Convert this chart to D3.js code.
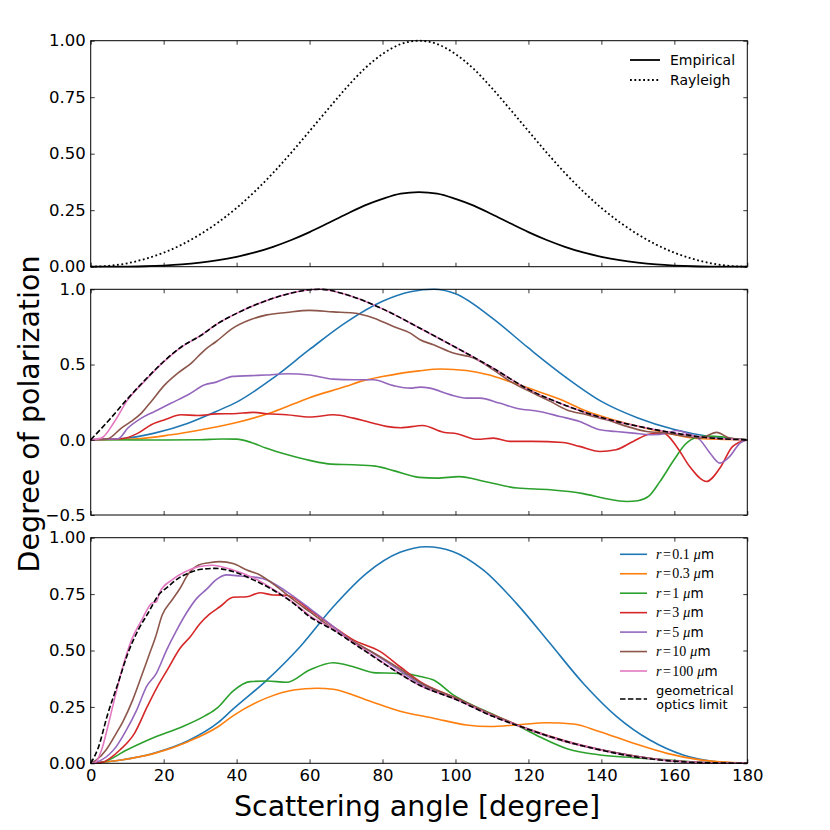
<!DOCTYPE html>
<html lang="en">
<head>
<meta charset="utf-8">
<title>Degree of polarization vs scattering angle</title>
<script src="https://cdn.jsdelivr.net/npm/d3@7"></script>
<style>
  body { margin: 0; background: #fff; }
  text { font-family: "DejaVu Sans", sans-serif; }
</style>
</head>
<body>
<script>
// ---- values ----
var xTicks = [0, 20, 40, 60, 80, 100, 120, 140, 160, 180];
var topTicks = [0, 0.25, 0.5, 0.75, 1];
var midTicks = [-0.5, 0, 0.5, 1];
var botTicks = [0, 0.25, 0.5, 0.75, 1];

// top panel
var topAngles = [0, 5, 10, 15, 20, 25, 30, 35, 40, 45, 50, 55, 60, 65, 70, 75, 80, 85, 90,
  95, 100, 105, 110, 115, 120, 125, 130, 135, 140, 145, 150, 155, 160, 165, 170, 175, 180];
var rayleigh = [0, 0.004, 0.015, 0.035, 0.062, 0.098, 0.143, 0.197, 0.26, 0.333, 0.415, 0.505, 0.6, 0.696, 0.79, 0.875, 0.941, 0.985, 1,
  0.985, 0.941, 0.875, 0.79, 0.696, 0.6, 0.505, 0.415, 0.333, 0.26, 0.197, 0.143, 0.098, 0.062, 0.035, 0.015, 0.004, 0];
var empirical = [0, 0.0001, 0.0006, 0.002, 0.005, 0.010, 0.018, 0.029, 0.044, 0.063, 0.088, 0.118, 0.153, 0.192, 0.232, 0.27, 0.30, 0.323, 0.33,
  0.323, 0.30, 0.27, 0.232, 0.192, 0.153, 0.118, 0.088, 0.063, 0.044, 0.029, 0.018, 0.010, 0.005, 0.002, 0.0006, 0.0001, 0];
var topLegend = ["Empirical", "Rayleigh"];

// particle radii (micron) and colours
var radii = ["0.1", "0.3", "1", "3", "5", "10", "100"];
var colors = ["#1f77b4", "#ff7f0e", "#2ca02c", "#d62728", "#9467bd", "#8c564b", "#e377c2"];
var geoLabel = ["geometrical", "optics limit"];

// middle panel: [angle, P]
var mid01 = [[0,0],[8.4,0.007],[17.5,0.044],[26.7,0.11],[34.4,0.188],[40,0.25],[50,0.41],[60,0.6],[70,0.78],[80,0.92],[88,0.985],[94,1.0],[100,0.97],[110,0.81],[120,0.61],[130,0.42],[140,0.255],[150,0.145],[160,0.068],[170,0.02],[180,0]];
var mid03 = [[0,0],[13,0.007],[22,0.033],[30,0.065],[34.4,0.085],[40,0.115],[50,0.185],[60,0.28],[70,0.355],[74,0.388],[80,0.42],[90,0.458],[96,0.47],[103,0.46],[109,0.432],[115,0.385],[121,0.335],[129,0.266],[136,0.19],[143,0.135],[150,0.09],[158,0.044],[165,0.012],[172,0.003],[180,0]];
var mid1 = [[0,0],[20,-0.002],[30,0],[36,0.005],[40,0.004],[44,-0.018],[48,-0.055],[54,-0.1],[60,-0.137],[66,-0.162],[72,-0.166],[78,-0.175],[83,-0.205],[90,-0.25],[95,-0.255],[101,-0.245],[108,-0.277],[117,-0.321],[126,-0.332],[135,-0.358],[141,-0.39],[147,-0.41],[150,-0.405],[153,-0.375],[156,-0.28],[160,-0.13],[163,-0.03],[166,0.015],[169,0.024],[173,0.02],[177,0.004],[180,0]];
var mid3 = [[0,0],[8.4,0.007],[13,0.044],[16.6,0.1],[20.3,0.133],[24.8,0.166],[29.4,0.161],[34.4,0.172],[39,0.173],[44.6,0.182],[48.3,0.173],[53.7,0.166],[60,0.151],[66.5,0.166],[72,0.144],[77.5,0.11],[81,0.089],[85,0.08],[91,0.095],[96.7,0.05],[100.4,0.04],[106,0.003],[110.4,0.011],[115,-0.011],[121,-0.011],[129.5,-0.018],[134,-0.044],[139.6,-0.078],[144,-0.066],[148.7,-0.011],[153.3,0.038],[157,0.044],[160.6,-0.044],[164.2,-0.177],[168.8,-0.277],[172.5,-0.188],[176,-0.044],[180,0]];
var mid5 = [[0,0],[7.5,0.007],[10.2,0.078],[13.9,0.144],[17.5,0.188],[22.1,0.244],[26.7,0.299],[31.3,0.365],[34.4,0.383],[39,0.421],[44,0.426],[48,0.43],[54,0.439],[60,0.43],[66.5,0.403],[72,0.399],[77.5,0.399],[83,0.36],[87.6,0.343],[90.3,0.35],[93,0.343],[98.5,0.3],[103,0.277],[106.7,0.277],[112,0.244],[116.7,0.21],[123,0.188],[128.6,0.155],[134,0.122],[139.6,0.066],[144,0.055],[148.7,0.044],[154,0.033],[158,0.044],[160.6,0.062],[163.4,0.044],[167,0],[169.8,-0.089],[172.5,-0.155],[175.2,-0.11],[178,-0.022],[180,0]];
var mid10 = [[0,0],[4.7,0.007],[8.4,0.078],[11.1,0.122],[13.9,0.177],[16.6,0.255],[20.3,0.365],[23.9,0.443],[27.6,0.51],[31.3,0.598],[34.4,0.653],[39,0.742],[43.7,0.797],[48.3,0.83],[53.7,0.846],[60,0.86],[66.5,0.85],[72,0.843],[77.5,0.81],[83,0.753],[87.6,0.709],[90.3,0.665],[94,0.631],[99.4,0.576],[105,0.543],[110.4,0.465],[115,0.388],[121.3,0.31],[126,0.255],[130.4,0.2],[136,0.166],[141.4,0.133],[147,0.089],[152.4,0.055],[158,0.044],[163.4,0.022],[167,0.011],[171.6,0.049],[175.2,0.011],[180,0]];
var mid100 = [[0,0],[2.9,0.011],[6.5,0.12],[10,0.26],[15,0.395],[20,0.518],[25,0.618],[30,0.69],[35,0.775],[40,0.84],[45,0.895],[50,0.94],[55,0.975],[60,0.997],[63,1.0],[70,0.965],[80,0.87],[90,0.745],[100,0.615],[110,0.48],[120,0.335],[130,0.23],[140,0.148],[150,0.09],[160,0.045],[170,0.012],[180,0]];
var midGeo = [[0,0],[5,0.13],[10,0.27],[15,0.40],[20,0.52],[25,0.62],[30,0.69],[35,0.775],[40,0.84],[45,0.895],[50,0.94],[55,0.975],[60,0.997],[63,1.0],[70,0.965],[80,0.87],[90,0.745],[100,0.615],[110,0.48],[120,0.335],[130,0.23],[140,0.148],[150,0.09],[160,0.045],[170,0.012],[180,0]];

// bottom panel: [angle, P]
var bot01 = [[0,0],[8.4,0.015],[17.5,0.046],[26.7,0.1],[34.9,0.18],[39,0.24],[48.3,0.369],[57.4,0.517],[66.5,0.694],[75.6,0.842],[84.8,0.935],[92,0.96],[99.4,0.938],[107.6,0.857],[116.7,0.709],[125.9,0.532],[135,0.355],[144.2,0.207],[153.3,0.103],[162.4,0.037],[171.6,0.007],[180,0]];
var bot03 = [[0,0],[8.4,0.015],[17.5,0.044],[26.7,0.096],[34.9,0.162],[39,0.21],[48.3,0.29],[55.6,0.325],[62,0.333],[66.5,0.328],[75.6,0.281],[84.8,0.231],[94,0.2],[103,0.17],[109.4,0.163],[116.7,0.17],[125,0.18],[132.3,0.174],[139.6,0.14],[148.8,0.089],[158,0.044],[167,0.015],[180,0]];
var bot1 = [[0,0],[3,0.004],[10,0.06],[17.5,0.115],[24.8,0.16],[31.3,0.21],[34.9,0.248],[39,0.32],[43.7,0.362],[48.3,0.365],[53.7,0.359],[60,0.414],[66.5,0.446],[72,0.428],[77.5,0.402],[83,0.399],[87,0.396],[90.3,0.385],[94,0.369],[99.4,0.303],[107.6,0.236],[115.8,0.177],[123,0.118],[130.4,0.066],[139.6,0.037],[148.8,0.025],[158,0.015],[167,0.004],[180,0]];
var bot3 = [[0,0],[3,0.004],[8,0.059],[12,0.133],[15.5,0.251],[18.3,0.34],[21,0.414],[24.5,0.51],[27.3,0.561],[30,0.62],[32.5,0.66],[35.5,0.695],[39,0.736],[42.8,0.738],[46.4,0.756],[50,0.746],[53.7,0.745],[60,0.68],[66.5,0.606],[72,0.547],[79.4,0.495],[84.8,0.428],[90.3,0.362],[100.4,0.288],[110.4,0.214],[120,0.152],[130,0.1],[140,0.06],[150,0.03],[160,0.01],[170,0.002],[180,0]];
var bot5 = [[0,0],[3,0.015],[7,0.074],[9.8,0.148],[12.6,0.236],[15.3,0.34],[18,0.399],[20.8,0.502],[23.4,0.585],[26.2,0.665],[29,0.73],[31.8,0.772],[34.6,0.816],[37.3,0.835],[41,0.83],[45.5,0.824],[48.3,0.813],[53.7,0.761],[60,0.687],[66.5,0.606],[72,0.539],[77.5,0.488],[84.8,0.41],[90.3,0.352],[100.4,0.285],[110.4,0.212],[120,0.15],[130,0.098],[140,0.06],[150,0.03],[160,0.01],[170,0.002],[180,0]];
var bot10 = [[0,0],[1.6,0.015],[4.2,0.059],[7,0.133],[8.8,0.184],[11.5,0.28],[14.2,0.399],[16,0.48],[17.8,0.561],[19.6,0.657],[22.3,0.724],[24.2,0.768],[26.9,0.842],[29.6,0.879],[32.4,0.889],[35.5,0.894],[39,0.886],[42.8,0.857],[46.4,0.835],[51,0.783],[55.6,0.724],[60,0.672],[66.5,0.595],[72,0.54],[77.5,0.49],[84.8,0.418],[90.3,0.358],[100.4,0.287],[110.4,0.212],[120,0.15],[130,0.097],[140,0.059],[150,0.03],[160,0.01],[170,0.002],[180,0]];
var bot100 = [[0,0],[1.2,0.003],[3,0.06],[4.8,0.17],[6.6,0.29],[8.5,0.41],[11.2,0.547],[14,0.635],[16.7,0.709],[18,0.716],[19,0.76],[22.2,0.812],[25.9,0.849],[29.5,0.871],[33.2,0.878],[39,0.857],[44.6,0.822],[50,0.772],[55.6,0.712],[60,0.655],[66.5,0.595],[72,0.535],[77.5,0.476],[83,0.416],[90.3,0.345],[100.4,0.282],[110.4,0.208],[120.5,0.148],[130.5,0.096],[139.7,0.059],[148.8,0.03],[157.9,0.012],[167,0.003],[180,0]];
var botGeo = [[0,0],[2,0.066],[4.7,0.22],[7.5,0.355],[10.2,0.488],[13,0.59],[15.7,0.665],[18.8,0.75],[21.2,0.783],[24,0.82],[26.7,0.842],[30.3,0.86],[34,0.864],[39,0.85],[44.6,0.813],[50,0.768],[55.6,0.709],[60,0.65],[66.5,0.591],[72,0.532],[77.5,0.473],[83,0.414],[90.3,0.345],[100.4,0.281],[110.4,0.207],[120.5,0.148],[130.5,0.096],[139.7,0.059],[148.8,0.03],[157.9,0.012],[167,0.003],[180,0]];

var midSeries = [mid01, mid03, mid1, mid3, mid5, mid10, mid100];
var botSeries = [bot01, bot03, bot1, bot3, bot5, bot10, bot100];

// ---- layout ----
var width = 830, height = 830;
var left = 90.7, right = 747.3;
var svg = d3.select("body").append("svg").attr("width", width).attr("height", height);

var x = d3.scaleLinear().domain([0, 180]).range([left, right]);
var yTop = d3.scaleLinear().domain([0, 1]).range([266.7, 40.7]);
var yMid = d3.scaleLinear().domain([-0.5, 1]).range([515, 289.3]);
var yBot = d3.scaleLinear().domain([0, 1]).range([763.3, 537.7]);

// axes with inward ticks on all four sides
function frame(y, ticks, fmt, xLabels) {
  var g = svg.append("g");
  var y0 = y.range()[0], y1 = y.range()[1];
  g.append("g").attr("transform", "translate(0," + y0 + ")")
    .call(d3.axisBottom(x).tickValues(xTicks).tickSize(-4).tickPadding(6)
      .tickFormat(xLabels ? d3.format("d") : function () { return ""; }));
  g.append("g").attr("transform", "translate(0," + y1 + ")")
    .call(d3.axisTop(x).tickValues(xTicks).tickSize(-4).tickFormat(function () { return ""; }));
  g.append("g").attr("transform", "translate(" + left + ",0)")
    .call(d3.axisLeft(y).tickValues(ticks).tickSize(-4).tickPadding(5).tickFormat(fmt));
  g.append("g").attr("transform", "translate(" + right + ",0)")
    .call(d3.axisRight(y).tickValues(ticks).tickSize(-4).tickFormat(function () { return ""; }));
  g.selectAll(".domain").remove();
  g.selectAll(".tick line").attr("stroke", "#000").attr("stroke-width", 0.8);
  g.selectAll(".tick text").attr("font-family", "DejaVu Sans").attr("font-size", 16.5).attr("fill", "#000");
  g.append("rect").attr("x", left).attr("y", y1).attr("width", right - left).attr("height", y0 - y1)
    .attr("fill", "none").attr("stroke", "#000").attr("stroke-width", 1);
}

function pairLine(y) {
  return d3.line().x(function (d) { return x(d[0]); }).y(function (d) { return y(d[1]); }).curve(d3.curveMonotoneX);
}

// ---- top panel ----
var topLine = d3.line().x(function (d, i) { return x(topAngles[i]); }).y(function (d) { return yTop(d); }).curve(d3.curveMonotoneX);
svg.append("path").attr("d", topLine(rayleigh)).attr("fill", "none").attr("stroke", "#000")
  .attr("stroke-width", 1.8).attr("stroke-dasharray", "1.8,2.6");
svg.append("path").attr("d", topLine(empirical)).attr("fill", "none").attr("stroke", "#000").attr("stroke-width", 1.8);
frame(yTop, topTicks, d3.format(".2f"), false);

// top legend
topLegend.forEach(function (name, i) {
  var ly = 60 + i * 20;
  svg.append("line").attr("x1", 630).attr("x2", 660).attr("y1", ly).attr("y2", ly)
    .attr("stroke", "#000").attr("stroke-width", 1.8).attr("stroke-dasharray", i === 0 ? null : "1.8,2.6");
  svg.append("text").attr("x", 670).attr("y", ly + 5).attr("font-size", 14).text(name);
});

// ---- middle panel ----
var midLine = pairLine(yMid);
midSeries.forEach(function (s, i) {
  svg.append("path").attr("d", midLine(s)).attr("fill", "none").attr("stroke", colors[i]).attr("stroke-width", 1.6);
});
svg.append("path").attr("d", midLine(midGeo)).attr("fill", "none").attr("stroke", "#000")
  .attr("stroke-width", 1.6).attr("stroke-dasharray", "5.5,2.4");
frame(yMid, midTicks, d3.format(".1f"), false);

// ---- bottom panel ----
var botLine = pairLine(yBot);
botSeries.forEach(function (s, i) {
  svg.append("path").attr("d", botLine(s)).attr("fill", "none").attr("stroke", colors[i]).attr("stroke-width", 1.6);
});
svg.append("path").attr("d", botLine(botGeo)).attr("fill", "none").attr("stroke", "#000")
  .attr("stroke-width", 1.6).attr("stroke-dasharray", "5.5,2.4");
frame(yBot, botTicks, d3.format(".2f"), true);

// bottom legend
radii.forEach(function (r, i) {
  var ly = 554.3 + i * 19.45;
  svg.append("line").attr("x1", 620).attr("x2", 647).attr("y1", ly).attr("y2", ly)
    .attr("stroke", colors[i]).attr("stroke-width", 1.6);
  var t = svg.append("text").attr("x", 656).attr("y", ly + 4.5).attr("font-size", 14);
  t.append("tspan").attr("font-family", "Liberation Serif").attr("font-style", "italic").text("r");
  t.append("tspan").attr("font-family", "Liberation Serif").attr("dx", 1.5).text("=");
  t.append("tspan").attr("font-family", "Liberation Serif").attr("dx", 1.5).text(r);
  t.append("tspan").attr("font-family", "Liberation Serif").attr("font-style", "italic").attr("dx", 4).text("\u03bc");
  t.append("tspan").attr("font-family", "DejaVu Sans").attr("font-size", 13.5).text("m");
});
svg.append("line").attr("x1", 620).attr("x2", 647).attr("y1", 699).attr("y2", 699)
  .attr("stroke", "#000").attr("stroke-width", 1.6).attr("stroke-dasharray", "5.5,2.4");
geoLabel.forEach(function (s, i) {
  svg.append("text").attr("x", 656).attr("y", 695 + i * 14.2).attr("font-size", 13).text(s);
});

// ---- axis titles ----
svg.append("text").attr("x", 417).attr("y", 816).attr("text-anchor", "middle")
  .attr("font-size", 28.5).text("Scattering angle [degree]");
svg.append("text").attr("transform", "translate(38.5,414) rotate(-90)").attr("text-anchor", "middle")
  .attr("font-size", 28.5).text("Degree of polarization");
</script>
</body>
</html>
